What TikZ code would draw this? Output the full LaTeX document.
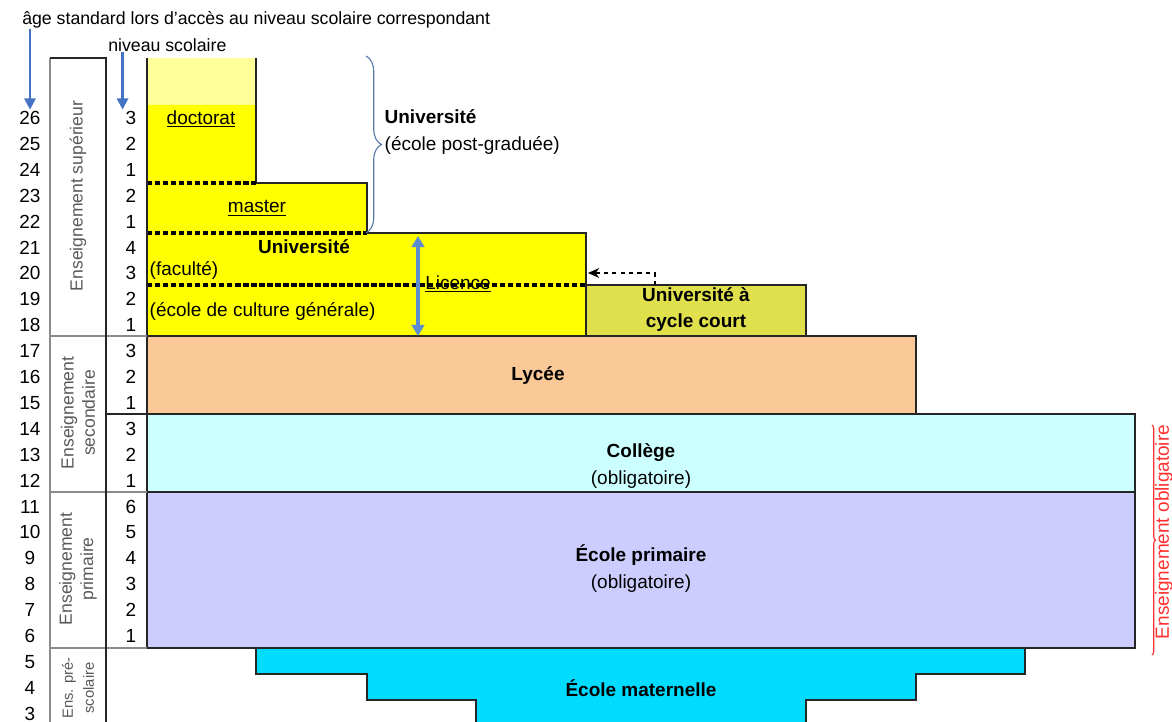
\documentclass[tikz,border=0pt]{standalone}
\usepackage{fontspec}
\setmainfont{Liberation Sans}
\usetikzlibrary{decorations.pathreplacing,arrows.meta}

\definecolor{jaune}{HTML}{FFFF00}
\definecolor{jauneclair}{HTML}{FFFF99}
\definecolor{cyclecourt}{HTML}{E0E04C}
\definecolor{lycee}{HTML}{FBC897}
\definecolor{college}{HTML}{CCFFFF}
\definecolor{primaire}{HTML}{CCCCFF}
\definecolor{maternelle}{HTML}{00DCFF}
\definecolor{fleche}{HTML}{4472C4}
\definecolor{licence}{HTML}{5B8BD0}
\definecolor{accolade}{HTML}{5A78A8}
\definecolor{rouge}{HTML}{FF3030}

\newcommand{\RowY}[1]{118+(26-#1)*25.9} % centre of the row of age #1

\begin{document}
\begin{tikzpicture}[x=0.025cm, y=-0.025cm,
bloc/.style={draw=black!85, line width=1.1pt},
tiret/.style={line width=2.4pt, dash pattern=on 3.8pt off 1.9pt},
texte/.style={font=\fontsize{13.5}{18.5}\selectfont, inner sep=1pt},
gras/.style={font=\fontsize{13.5}{18.5}\selectfont\bfseries, inner sep=1pt},
cat/.style={font=\fontsize{12.5}{15}\selectfont, rotate=90, align=center, text=black!65, inner sep=0pt},
grille/.style={draw=black!45, line width=1pt},
bleue/.style={fleche, line width=1.6pt, -{Triangle[width=8pt,length=8pt]}},
]
\clip (0,0) rectangle (1172,722);

%%%%%%%%%%%%%%%%%%%%%%%% TITRES %%%%%%%%%%%%%%%%%%%%%%%%
\node[font=\fontsize{12.6}{14}\selectfont, anchor=west, inner sep=0] (TitreAge) at (22,20) {âge standard lors d'accès au niveau scolaire correspondant};
\node[font=\fontsize{12.6}{14}\selectfont, anchor=west, inner sep=0] (TitreNiv) at (108,45) {niveau scolaire};

%%%%%%%%%%%%%%%%%%%%%%%% SUPERIEUR (jaune) %%%%%%%%%%%%%%%%%%%%%%%%
\fill[jauneclair] (147,58) rectangle (256,105);
\fill[jaune] (147,105) -- (256,105) -- (256,183) -- (367,183) -- (367,233) -- (586,233) -- (586,336) -- (147,336) -- cycle;
\draw[bloc] (256,58) -- (256,183) -- (367,183) -- (367,233) -- (586,233) -- (586,336);
\draw[tiret] (147,183) -- (256,183);
\draw[tiret] (147,233) -- (367,233);
\draw[tiret] (147,285) -- (586,285);
\draw[bloc, fill=cyclecourt] (586,285) rectangle (806,336);

%%%%%%%%%%%%%%%%%%%%%%%% SECONDAIRE, PRIMAIRE %%%%%%%%%%%%%%%%%%%%%%%%
\draw[bloc, fill=lycee] (147,336) rectangle (916,414);
\draw[bloc, fill=college] (147,414) rectangle (1135,492);
\draw[bloc, fill=primaire] (147,492) rectangle (1135,648);
\draw[bloc, fill=maternelle] (256,648) -- (1025,648) -- (1025,674) -- (916,674) -- (916,700) -- (806,700)
      -- (806,730) -- (476,730) -- (476,700) -- (367,700) -- (367,674) -- (256,674) -- cycle;
\draw[bloc] (147,58) -- (147,648);

%%%%%%%%%%%%%%%%%%%%%%%% COLONNES DE GAUCHE %%%%%%%%%%%%%%%%%%%%%%%%
\draw[grille] (50,58) -- (50,730);
\draw[grille] (50,336) -- (147,336);
\draw[grille] (50,492) -- (147,492);
\draw[grille] (50,648) -- (147,648);
\draw[black!85, line width=1.1pt] (50,58) -- (106,58) -- (106,730);
\draw[black!85, line width=1.1pt] (106,414) -- (147,414);

\foreach \age in {26,...,3}
  \node[texte] (A\age) at (30,{\RowY{\age}}) {\age};
\foreach \age/\niv in {26/3,25/2,24/1,23/2,22/1,21/4,20/3,19/2,18/1,17/3,16/2,15/1,
                       14/3,13/2,12/1,11/6,10/5,9/4,8/3,7/2,6/1}
  \node[texte] (N\age) at (131,{\RowY{\age}}) {\niv};

\node[cat] (EnsSup) at (78,196) {Enseignement supérieur};
\node[cat] (EnsSec) at (78,413) {Enseignement\\secondaire};
\node[cat] (EnsPrim) at (78,569) {Enseignement\\primaire};
\node[cat, font=\fontsize{10.5}{15}\selectfont] (EnsPre) at (78,688) {Ens. pré-\\scolaire};

\draw[bleue] (A26.north |- TitreAge.south) -- (A26.north);
\draw[bleue] ([xshift=-6pt]N26.north |- TitreNiv.south) -- ([xshift=-6pt]N26.north);

%%%%%%%%%%%%%%%%%%%%%%%% TEXTES DES BLOCS %%%%%%%%%%%%%%%%%%%%%%%%
\node[texte] (Doctorat) at (201,119) {\underline{doctorat}};
\node[texte] (Master) at (257,208) {\underline{master}};
\node[gras] (Univ) at (304,247) {Université};
\node[texte, anchor=west] (Faculte) at (148,270) {(faculté)};
\node[texte, anchor=west] (CultGen) at (148,311) {(école de culture générale)};
\node[texte] (Licence) at (458,284) {\underline{Licence}};
\node[gras, align=center] (CycleCourt) at (696,310) {Université à\\cycle court};
\node[gras] (Lycee) at (538,376) {Lycée};
\node[gras] (College) at (641,453) {Collège};
\node[texte] (ObligCol) at (641,480) {(obligatoire)};
\node[gras] (Primaire) at (641,555) {École primaire};
\node[texte] (ObligPrim) at (641,584) {(obligatoire)};
\node[gras] (Maternelle) at (641,688) {École maternelle};

%%%%%%%%%%%%%%%%%%%%%%%% FLECHES %%%%%%%%%%%%%%%%%%%%%%%%
\coordinate (LicHaut) at (418,236);
\coordinate (LicBas) at (418,336);
\draw[licence, line width=2.6pt, {Triangle[width=9pt,length=8pt]}-{Triangle[width=9pt,length=8pt]}] (LicHaut) -- (LicBas);

\coordinate (CCdep) at (655,285);
\coordinate (CCcoin) at (655,273);
\coordinate (CCfin) at (588,273);
\draw[dashed, line width=1.1pt, -{Stealth[length=8pt,width=7pt]}] (CCdep) -- (CCcoin) -- (CCfin);

%%%%%%%%%%%%%%%%%%%%%%%% ACCOLADES %%%%%%%%%%%%%%%%%%%%%%%%
\draw[accolade, line width=0.8pt, decorate, decoration={brace, amplitude=11pt}] (366,56) -- (366,233);
\node[gras, anchor=west] (UnivPG) at (383,117) {Université};
\node[texte, anchor=west] (EcolePG) at (383,145) {(école post-graduée)};

\draw[rouge, line width=0.8pt, decorate, decoration={brace, amplitude=2.5pt}] (1152,425) -- (1152,655);
\node[texte, rotate=90, text=rouge] (Oblig) at (1164,532) {Enseignement obligatoire};
\end{tikzpicture}
\end{document}
